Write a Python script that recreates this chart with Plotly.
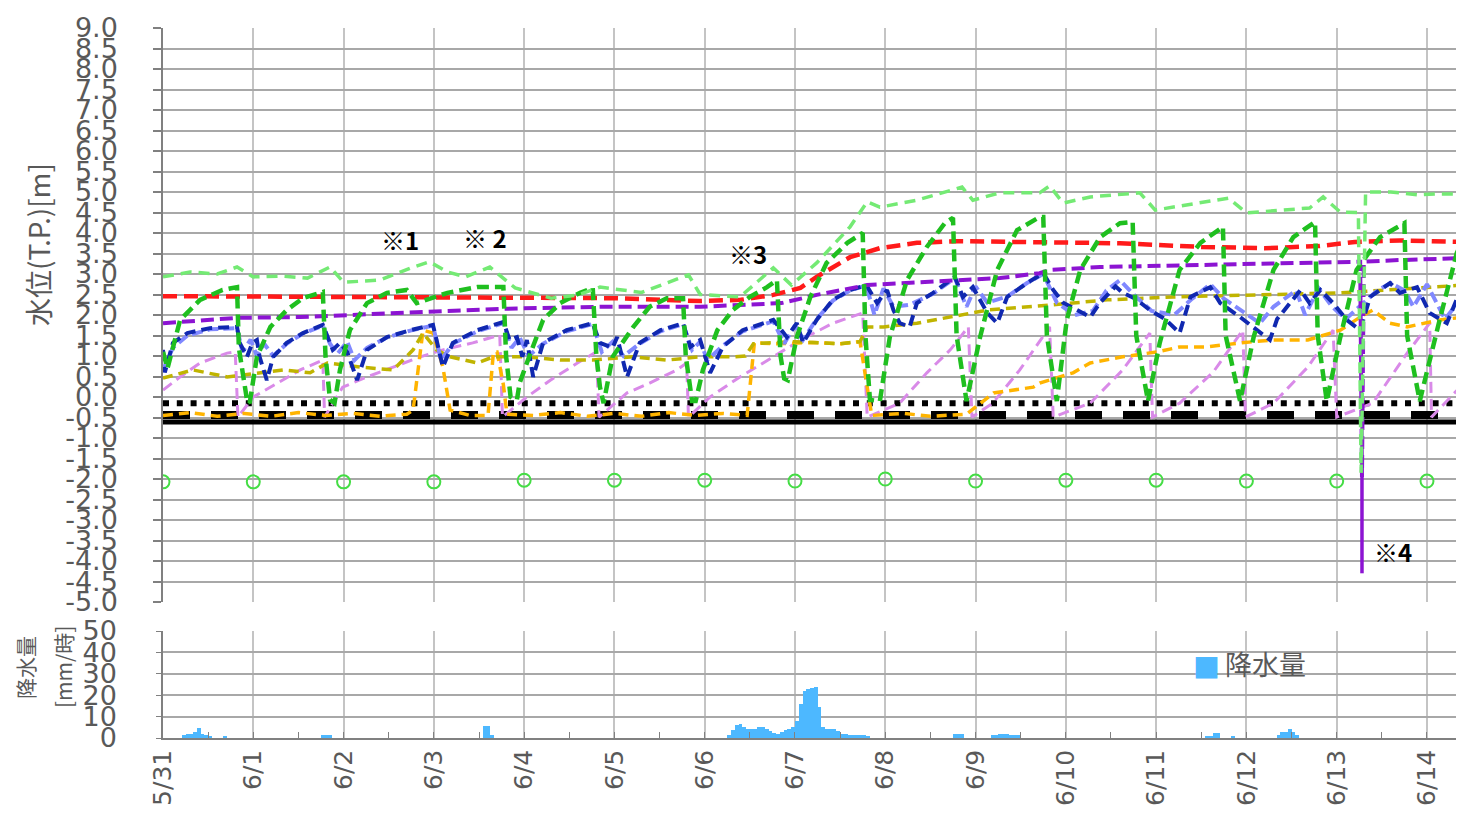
import plotly.graph_objects as go

# ---------------- data (x = days since 5/31 00:00) ----------------
day_labels = ["5/31", "6/1", "6/2", "6/3", "6/4", "6/5", "6/6", "6/7",
              "6/8", "6/9", "6/10", "6/11", "6/12", "6/13", "6/14"]
y_tickvals = [9.0, 8.5, 8.0, 7.5, 7.0, 6.5, 6.0, 5.5, 5.0, 4.5, 4.0, 3.5, 3.0, 2.5, 2.0,
              1.5, 1.0, 0.5, 0.0, -0.5, -1.0, -1.5, -2.0, -2.5, -3.0, -3.5, -4.0, -4.5, -5.0]
y_ticktext = ["9.0", "8.5", "8.0", "7.5", "7.0", "6.5", "6.0", "5.5", "5.0", "4.5", "4.0", "3.5",
              "3.0", "2.5", "2.0", "1.5", "1.0", "0.5", "0.0", "-0.5", "-1.0", "-1.5", "-2.0",
              "-2.5", "-3.0", "-3.5", "-4.0", "-4.5", "-5.0"]
rain_tickvals = [0, 10, 20, 30, 40, 50]
rain_ticktext = ["0", "10", "20", "30", "40", "50"]

lg_t = [0, 0.3, 0.6, 0.82, 1.0, 1.3, 1.6, 1.85, 2.0, 2.4, 2.75, 2.95, 3.15, 3.35, 3.62, 3.9,
        4.3, 4.6, 4.84, 5.3, 5.82, 5.95, 6.39, 6.76, 6.96, 7.24, 7.61, 7.8, 7.94, 8.35, 8.85,
        8.97, 9.27, 9.71, 9.82, 9.97, 10.27, 10.82, 10.99, 11.8, 12.0, 12.7, 12.85, 13.04,
        13.24, 13.27, 13.32, 13.6, 13.9, 14.1, 14.41]
lg_v = [2.93, 3.05, 3.0, 3.17, 2.93, 2.95, 2.9, 3.17, 2.8, 2.85, 3.15, 3.3, 3.05, 2.93, 3.17, 2.66,
        2.41, 2.49, 2.68, 2.55, 2.98, 2.5, 2.44, 3.15, 2.73, 3.27, 4.15, 4.76, 4.63, 4.8, 5.12,
        4.8, 4.98, 4.98, 5.15, 4.73, 4.88, 4.98, 4.56, 4.85, 4.49, 4.61, 4.88, 4.51,
        4.5, -1.85, 5.0, 5.0, 4.93, 4.95, 4.95]

red_t = [0, 1, 2, 3, 4, 5, 5.95, 6.4, 6.76, 7.06, 7.24, 7.61, 7.94, 8.35, 8.8, 9.7, 10.6, 11.5,
         12.2, 12.8, 13.2, 13.7, 14.41]
red_v = [2.46, 2.44, 2.44, 2.43, 2.42, 2.41, 2.34, 2.37, 2.49, 2.66, 2.93, 3.41, 3.63, 3.76, 3.8,
         3.78, 3.75, 3.66, 3.63, 3.68, 3.78, 3.82, 3.78]

pu_t = [0, 0.82, 1.52, 2.7, 3.73, 4.84, 5.95, 6.85, 7.24, 7.8, 8.35, 9.27, 9.71, 9.82, 10.38,
        11.49, 12.6, 13.26, 13.28, 13.30, 13.7, 14.41]
pu_v = [1.8, 1.93, 1.95, 2.05, 2.15, 2.2, 2.2, 2.29, 2.49, 2.73, 2.8, 2.9, 3.02, 3.1, 3.17,
        3.22, 3.27, 3.3, -1.95, 3.3, 3.34, 3.39]
spike_t = [13.28, 13.28]
spike_v = [-1.95, -4.3]

gr_t = [0, 0.05, 0.19, 0.41, 0.66, 0.82, 0.84, 0.93, 0.96, 1.04, 1.19, 1.37, 1.55, 1.77, 1.80,
        1.85, 1.90, 1.96, 2.07, 2.26, 2.48, 2.70, 2.81, 2.92, 3.15, 3.48, 3.77, 3.80, 3.85, 3.92,
        3.95, 4.07, 4.21, 4.40, 4.62, 4.76, 4.80, 4.84, 4.88, 4.98, 5.21, 5.39, 5.58, 5.76, 5.79,
        5.86, 5.90, 5.98, 6.14, 6.31, 6.50, 6.69, 6.80, 6.84, 6.88, 6.92, 7.02, 7.17, 7.35, 7.58,
        7.75, 7.78, 7.83, 7.94, 8.05, 8.24, 8.46, 8.66, 8.75, 8.79, 8.90, 9.05, 9.24, 9.46, 9.71,
        9.75, 9.79, 9.90, 10.01, 10.16, 10.38, 10.60, 10.74, 10.78, 10.91, 11.04, 11.26, 11.49,
        11.74, 11.77, 11.93, 12.08, 12.30, 12.52, 12.76, 12.79, 12.89, 13.04, 13.22, 13.48,
        13.75, 13.78, 13.92, 14.14, 14.33, 14.41]
gr_v = [1.1, 0.7, 1.88, 2.37, 2.61, 2.68, 1.2, -0.07, -0.15, 0.98, 1.71, 2.12, 2.41, 2.56, 1.0,
        -0.07, -0.15, 0.66, 1.63, 2.29, 2.54, 2.61, 2.29, 2.37, 2.54, 2.68, 2.68, 1.0, 0.0, -0.07,
        0.34, 1.07, 1.88, 2.29, 2.54, 2.66, 1.0, 0.24, -0.15, 0.98, 1.71, 2.2, 2.41, 2.41, 1.0,
        -0.1, -0.1, 0.66, 1.63, 2.12, 2.44, 2.68, 2.85, 1.0, 0.45, 0.41, 1.46, 2.44, 3.27, 3.76,
        4.0, 1.5, -0.07, -0.1, 1.46, 2.85, 3.66, 4.24, 4.37, 1.5, -0.1, 1.46, 3.1, 4.07, 4.39,
        4.39, 1.5, -0.1, 1.88, 3.1, 3.9, 4.24, 4.27, 1.5, -0.1, 1.32, 3.1, 3.76,
        4.15, 1.5, -0.1, 1.46, 3.1, 3.9, 4.27, 1.5, -0.1, 1.46, 3.1, 3.9,
        4.24, 1.5, -0.1, 1.88, 3.51, 3.9]

db_t = [0, 0.02, 0.11, 0.27, 0.52, 0.82, 0.85, 0.93, 0.99, 1.04, 1.07, 1.15, 1.22, 1.37, 1.55,
        1.77, 1.88, 1.96, 2.04, 2.15, 2.26, 2.48, 2.74, 2.99, 3.10, 3.21, 3.48, 3.77, 3.84, 3.92,
        3.98, 4.03, 4.10, 4.21, 4.47, 4.76, 4.84, 4.98, 5.03, 5.14, 5.28, 5.51, 5.76, 5.84, 5.95,
        6.06, 6.20, 6.42, 6.76, 6.91, 7.02, 7.09, 7.24, 7.42, 7.61, 7.79, 7.91, 8.02, 8.09, 8.16,
        8.27, 8.35, 8.53, 8.77, 8.86, 8.97, 9.13, 9.24, 9.35, 9.57, 9.75, 9.86, 9.97, 10.05,
        10.27, 10.38, 10.55, 10.63, 10.77, 10.93, 11.1, 11.26, 11.38, 11.60, 11.71, 11.93, 12.26,
        12.34, 12.60, 12.70, 12.82, 12.96, 13.11, 13.26, 13.37, 13.59, 13.70, 13.89, 14.03,
        14.22, 14.36, 14.41]
db_v = [1.15, 0.6, 1.32, 1.56, 1.68, 1.71, 1.32, 0.98, 1.32, 1.39, 0.98, 0.41, 0.98, 1.32, 1.56,
        1.76, 1.15, 1.32, 1.1, 0.41, 1.15, 1.46, 1.63, 1.76, 0.73, 1.32, 1.63, 1.83, 1.39, 1.46,
        0.98, 1.39, 0.49, 1.32, 1.63, 1.8, 1.32, 1.2, 1.46, 0.49, 1.32, 1.63, 1.8, 1.22, 1.39,
        0.59, 1.22, 1.63, 1.88, 1.46, 1.8, 1.32, 1.88, 2.37, 2.61, 2.73, 2.29, 2.61, 2.12, 1.8,
        1.71, 2.29, 2.54, 2.93, 2.44, 2.68, 2.05, 1.8, 2.44, 2.78, 3.02, 2.61, 2.3, 2.2,
        1.95, 2.3, 2.7, 2.54, 2.4, 2.12, 1.9, 1.56, 2.44, 2.68, 2.29, 1.95, 1.39,
        1.9, 2.61, 2.29, 2.61, 2.29, 1.88, 1.63, 2.44, 2.78, 2.54, 2.68, 2.05,
        1.8, 2.54, 2.6]

lb_t = [0, 0.11, 0.27, 0.52, 0.82, 0.88, 0.97, 1.04, 1.12, 1.22, 1.37, 1.55, 1.77, 1.85, 1.93,
        2.04, 2.12, 2.26, 2.48, 2.74, 2.99, 3.08, 3.21, 3.48, 3.77, 3.86, 3.95, 4.05, 4.21, 4.47,
        4.76, 4.86, 4.98, 5.10, 5.28, 5.51, 5.76, 5.86, 5.95, 6.03, 6.20, 6.42, 6.76, 6.88, 7.00,
        7.09, 7.24, 7.42, 7.61, 7.79, 7.88, 7.98, 8.09, 8.27, 8.53, 8.77, 8.90, 9.00, 9.13, 9.35,
        9.57, 9.75, 9.90, 10.10, 10.30, 10.45, 10.60, 10.75, 10.95, 11.20, 11.40, 11.60, 11.75,
        11.95, 12.15, 12.30, 12.55, 12.65, 12.80, 12.95, 13.10, 13.30, 13.45, 13.60, 13.75,
        13.85, 14.00, 14.20, 14.41]
lb_v = [0.66, 1.2, 1.5, 1.65, 1.68, 1.1, 1.4, 1.0, 1.3, 1.0, 1.3, 1.55, 1.74, 1.3, 1.05,
        1.35, 0.9, 1.2, 1.45, 1.62, 1.74, 0.9, 1.3, 1.6, 1.8, 1.2, 1.45, 1.0, 1.3, 1.6,
        1.78, 1.1, 1.35, 1.0, 1.3, 1.6, 1.78, 1.15, 1.35, 0.9, 1.25, 1.6, 1.85, 1.3, 1.75,
        1.4, 1.9, 2.35, 2.6, 2.72, 2.0, 2.65, 2.2, 2.25, 2.52, 2.9, 2.2, 2.7, 2.3, 2.45,
        2.78, 3.0, 2.3, 2.0, 2.1, 2.6, 2.85, 2.5, 2.1, 2.0, 2.4, 2.75, 2.4,
        2.1, 1.8, 2.2, 2.6, 2.0, 2.65, 2.2, 1.9, 2.3, 2.6, 2.78, 2.6,
        2.2, 2.75, 1.9, 2.5]

ol_t = [0, 0.33, 0.71, 1.07, 1.33, 1.63, 1.82, 2.18, 2.55, 2.77, 2.88, 3.03, 3.18, 3.48, 3.66,
        4.03, 4.40, 4.76, 5.21, 5.58, 5.95, 6.31, 6.45, 6.54, 7.0, 7.5, 7.72, 7.80, 7.98, 8.35,
        8.72, 9.13, 9.82, 10.46, 11.19, 12.30, 13.04, 14.41]
ol_v = [0.46, 0.66, 0.49, 0.59, 0.66, 0.59, 0.83, 0.73, 0.66, 1.15, 1.56, 1.15, 0.98, 0.83, 0.98,
        0.98, 0.9, 0.9, 0.98, 0.9, 0.98, 0.98, 1.0, 1.3, 1.35, 1.3, 1.35, 1.71, 1.71, 1.8,
        1.95, 2.12, 2.24, 2.37, 2.44, 2.49, 2.54, 2.73]

or_t = [0, 0.3, 0.6, 0.9, 1.2, 1.5, 1.8, 2.1, 2.4, 2.7, 2.77, 2.88, 2.99, 3.10, 3.18, 3.4, 3.60,
        3.66, 3.70, 3.77, 3.81, 4.1, 4.4, 4.7, 5.0, 5.3, 5.6, 5.9, 6.2, 6.47, 6.55, 6.8, 7.2, 7.5,
        7.72, 7.80, 7.85, 8.2, 8.5, 8.9, 9.2, 9.64, 9.71, 10.08, 10.27, 10.63, 11.01, 11.26,
        11.56, 11.93, 12.30, 12.68, 13.04, 13.26, 13.40, 13.59, 13.78, 14.14, 14.41]
or_v = [-0.45, -0.38, -0.47, -0.4, -0.47, -0.38, -0.45, -0.4, -0.47, -0.42, -0.32, 1.63, 1.56,
        0.73, -0.32, -0.45, -0.45, 1.1, 1.1, 0.3, -0.42, -0.45, -0.38, -0.47, -0.4, -0.47, -0.38,
        -0.45, -0.4, -0.45, 1.32, 1.3, 1.33, 1.3, 1.35, 0.2, -0.45, -0.4, -0.47, -0.42, 0.1,
        0.24, 0.34, 0.59, 0.83, 0.98, 1.1, 1.22, 1.22, 1.32, 1.39, 1.39, 1.63, 1.95, 2.12, 1.8,
        1.71, 1.88, 1.95]

vi_t = [0, 0.19, 0.41, 0.71, 0.80, 0.83, 1.0, 1.26, 1.52, 1.77, 1.79, 1.99, 2.26, 2.55, 2.85,
        3.10, 3.43, 3.73, 3.76, 4.03, 4.29, 4.59, 4.80, 4.83, 5.14, 5.39, 5.69, 5.80, 5.82, 6.06,
        6.39, 6.76, 7.06, 7.42, 7.75, 7.80, 8.16, 8.46, 8.72, 8.92, 8.96, 9.19, 9.49, 9.82, 9.86,
        10.27, 10.63, 10.93, 10.96, 11.26, 11.63, 11.96, 11.99, 12.30, 12.68, 12.96, 13.00,
        13.40, 13.78, 14.03, 14.05, 14.41]
vi_v = [0.17, 0.49, 0.83, 1.07, 1.1, -0.49, 0.0, 0.34, 0.66, 0.9, -0.49, 0.24, 0.49, 0.73, 0.98,
        1.15, 1.32, 1.51, -0.49, 0.0, 0.41, 0.83, 1.1, -0.49, 0.1, 0.34, 0.66, 0.83, -0.49, 0.0,
        0.49, 0.98, 1.39, 1.8, 2.05, -0.49, -0.15, 0.59, 1.15, 1.71, -0.49, -0.15, 0.66, 1.71,
        -0.49, -0.15, 0.66, 1.56, -0.49, -0.15, 0.6, 1.63, -0.49, -0.15, 0.73, 1.63, -0.49,
        -0.15, 1.07, 1.8, -0.49, 0.34]

ref_t = [0, 14.41]
dot_v = [-0.15, -0.15]
dash_v = [-0.44, -0.44]
solid_v = [-0.61, -0.61]

circ_t = [0, 1, 2, 3, 4, 5, 6, 7, 8, 9, 10, 11, 12, 13, 14]
circ_v = [-2.07, -2.07, -2.07, -2.07, -2.03, -2.03, -2.03, -2.05, -2.0, -2.05, -2.03, -2.03,
          -2.05, -2.05, -2.05]

rain_h = [5, 6, 7, 8, 9, 10, 11, 12, 16,
          42, 43, 44,
          85, 86, 87,
          150, 151, 152, 153, 154, 155, 156, 157, 158, 159, 160, 161, 162, 163, 164, 165, 166, 167,
          168, 169, 170, 171, 172, 173, 174, 175, 176, 177, 178, 179, 180, 181, 182, 183, 184,
          185, 186, 187,
          210, 211, 212,
          220, 221, 222, 223, 224, 225, 226, 227,
          277, 278, 279, 280, 284,
          296, 297, 298, 299, 300, 301]
rain_mm = [1.5, 2, 2, 3, 4.5, 2, 1.5, 1, 1,
           1.5, 1.5, 1.5,
           5.5, 5.5, 1.5,
           1.4, 3.7, 6, 6.5, 5, 4.2, 4.2, 4.2, 5, 5, 4.2, 3.3, 2.3, 1.9, 2.8, 3.7, 4.2, 5,
           8, 16, 22, 23, 23.5, 24, 14.5, 5, 4, 4, 4, 3.5, 2, 2, 1.5, 1.5, 1.5,
           1.5, 1.5, 1,
           2, 2, 2,
           1.5, 1.5, 2, 2, 2, 1.5, 1.5, 1.5,
           1, 1, 2.5, 2.5, 1,
           1.5, 2.8, 3, 4.2, 3, 1.5]

notes = ["※1", "※ 2", "※3", "※4"]
note_t = [2.63, 3.57, 6.48, 13.62]
note_v = [3.83, 3.88, 3.51, -3.76]

# ---------------- figure ----------------
GRAY = "#595959"
JP = "Noto Sans CJK JP"
NUM = "DejaVu Sans"
# the page body adds an 8px offset; the figure covers the window from (8, 8)
OFF = 8
W, H = 1464 - OFF, 814 - OFF


def px(xp):
    return (xp - OFF) / W


def py(yp):
    return (814 - yp) / H


fig = go.Figure()


def line(t, v, color, width, dash, name):
    fig.add_trace(go.Scatter(x=t, y=v, mode="lines", name=name, showlegend=False,
                             line=dict(color=color, width=width, dash=dash),
                             xaxis="x", yaxis="y"))


line(ref_t, solid_v, "#000000", 5, "solid", "基準3")
line(ref_t, dash_v, "#000000", 8, "27px,21px", "基準2")
line(ref_t, dot_v, "#000000", 6, "6px,7.8px", "基準1")
line(vi_t, vi_v, "#d98ae8", 3, "11px,6px", "violet")
line(or_t, or_v, "#ffb400", 3.5, "10px,6px", "orange")
line(ol_t, ol_v, "#c0b400", 3.5, "10px,6px", "olive")
line(lb_t, lb_v, "#8088ff", 4, "11px,5px", "lightblue")
line(db_t, db_v, "#1028b0", 4, "11px,6px", "darkblue")
line(pu_t, pu_v, "#8c14d2", 4, "13px,6px", "purple")
line(red_t, red_v, "#ff1a1a", 4.5, "14px,7px", "red")
line(gr_t, gr_v, "#1fbf1f", 4.5, "12px,6px", "green")
line(lg_t, lg_v, "#74ea74", 3.5, "11px,7px", "lightgreen")
line(spike_t, spike_v, "#8c14d2", 3.5, "solid", "spike")

fig.add_trace(go.Scatter(x=circ_t, y=circ_v, mode="markers", showlegend=False,
                         marker=dict(symbol="circle-open", size=13, color="#44dd44",
                                     line=dict(width=2, color="#44dd44")),
                         xaxis="x", yaxis="y"))

fig.add_trace(go.Bar(x=[(h + 0.5) / 24 for h in rain_h], y=rain_mm, width=1 / 24,
                     marker=dict(color="#4db8ff", line=dict(width=0)), name="降水量",
                     showlegend=False, xaxis="x2", yaxis="y2"))

XR = [0, 14.41]
grid_v = "#c4c4c4"
grid_h = "#a8a8a8"

fig.update_layout(
    width=W, height=H,
    autosize=False,
    margin=dict(l=0, r=0, t=0, b=0, pad=0, autoexpand=False),
    paper_bgcolor="white", plot_bgcolor="white",
    bargap=0,
    xaxis=dict(domain=[px(163), 1.0], range=XR, tickmode="linear", tick0=0, dtick=1,
               showticklabels=False, showgrid=True, gridcolor=grid_v, gridwidth=2,
               zeroline=False, showline=False, anchor="y", automargin=False),
    yaxis=dict(domain=[py(602), py(28)], range=[-5, 9], tickmode="array",
               tickvals=y_tickvals, ticktext=y_ticktext,
               tickfont=dict(family=NUM, size=27, color=GRAY),
               ticks="outside", ticklen=8, tickcolor="#808080", tickwidth=1.5,
               ticklabelstandoff=30,
               showgrid=True, gridcolor=grid_h, gridwidth=1.5, zeroline=False,
               showline=True, linecolor="#808080", linewidth=1.5, anchor="x",
               automargin=False),
    xaxis2=dict(domain=[px(163), 1.0], range=XR, tickmode="array",
                tickvals=list(range(15)), ticktext=day_labels, tickangle=-90,
                tickfont=dict(family=NUM, size=25, color=GRAY),
                ticks="inside", ticklen=6, tickcolor="#808080",
                minor=dict(dtick=0.5, tick0=0, ticks="inside", ticklen=6,
                           tickcolor="#808080", showgrid=False),
                showgrid=True, gridcolor=grid_v, gridwidth=2, zeroline=False,
                showline=True, linecolor="#808080", linewidth=1.5, anchor="y2",
                automargin=False),
    yaxis2=dict(domain=[py(738), py(631)], range=[0, 50], tickmode="array",
                tickvals=rain_tickvals, ticktext=rain_ticktext,
                tickfont=dict(family=NUM, size=27, color=GRAY),
                ticks="outside", ticklen=5, tickcolor="#808080",
                ticklabelstandoff=34,
                showgrid=True, gridcolor=grid_h, gridwidth=1.5, zeroline=False,
                showline=True, linecolor="#808080", linewidth=1.5, anchor="x2",
                automargin=False),
)

for txt, tx, ty in zip(notes, note_t, note_v):
    fig.add_annotation(x=tx, y=ty, xref="x", yref="y", text="<b>%s</b>" % txt,
                       showarrow=False, xanchor="center", yanchor="middle",
                       font=dict(family=JP, size=24, color="#000000"))


def label(xp, yp, text, size, color=GRAY, angle=0, xanchor="center"):
    fig.add_annotation(x=px(xp), y=py(yp), xref="paper", yref="paper", text=text,
                       textangle=angle, showarrow=False, xanchor=xanchor, yanchor="middle",
                       font=dict(family=JP, size=size, color=color))


label(38, 245, "水位(T.P.)[m]", 28, angle=-90)
label(25, 668, "降水量", 21, angle=-90)
label(63, 667, "[mm/時]", 21, angle=-90)
# legend of the rainfall panel
label(1206, 666, "■", 27, color="#4db8ff")
label(1223, 663, "降水量", 27, xanchor="left")

fig.write_html("out.html")
